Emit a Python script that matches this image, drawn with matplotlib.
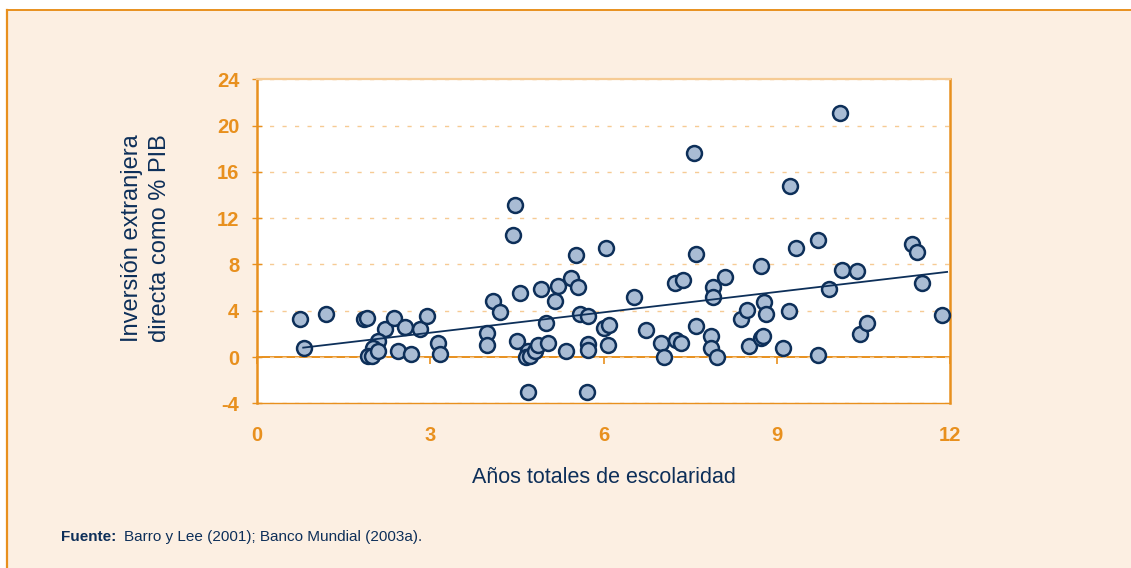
import numpy as np
import matplotlib
matplotlib.use("Agg")
import matplotlib.pyplot as plt
from matplotlib.patches import Rectangle
from matplotlib.lines import Line2D

plt.rcParams["axes.unicode_minus"] = False

# Years of schooling vs. FDI (% of GDP), one point per country
escolaridad = [
    0.745, 0.82, 1.195, 1.86, 1.91, 2.22, 2.09, 2.01, 1.93, 1.99,
    2.10, 2.38, 2.57, 2.82, 2.94, 2.45, 2.67, 3.13, 3.17, 3.99,
    3.98, 4.08, 4.20, 4.46, 4.43, 4.55, 4.50, 4.70, 4.66, 4.73,
    4.81, 4.87, 4.70, 4.91, 5.00, 5.04, 5.16, 5.22, 5.43, 5.52,
    5.55, 5.35, 5.59, 5.74, 5.73, 5.74, 5.72, 6.04, 6.01, 6.07,
    6.10, 6.52, 6.73, 7.00, 7.05, 7.25, 7.34, 7.24, 7.37, 7.57,
    7.61, 7.61, 7.89, 7.89, 7.87, 7.86, 7.96, 8.11, 8.38, 8.48,
    8.52, 8.72, 8.78, 8.81, 8.72, 8.77, 9.10, 9.22, 9.23, 9.34,
    9.72, 9.71, 9.90, 10.09, 10.13, 10.39, 10.45, 10.57, 11.34, 11.42,
    11.52, 11.86,
]
ied_pib = [
    3.31, 0.81, 3.69, 3.31, 3.37, 2.45, 1.38, 0.81, 0.09, 0.12,
    0.52, 3.40, 2.62, 2.45, 3.51, 0.52, 0.29, 1.21, 0.29, 2.10,
    1.07, 4.87, 3.89, 13.11, 10.55, 5.50, 1.38, 0.52, 0.00, 0.06,
    0.52, 1.04, -3.00, 5.91, 2.91, 1.21, 4.84, 6.14, 6.86, 8.81,
    6.05, 0.52, 3.69, 3.51, 1.10, 0.63, -3.00, 9.39, 2.54, 1.04,
    2.74, 5.19, 2.31, 1.21, 0.00, 1.50, 1.24, 6.43, 6.69, 17.67,
    8.88, 2.68, 6.08, 5.22, 1.82, 0.75, 0.00, 6.92, 3.31, 4.06,
    0.95, 7.87, 4.78, 3.69, 1.61, 1.79, 0.75, 3.98, 14.78, 9.45,
    10.09, 0.17, 5.91, 21.07, 7.49, 7.44, 2.02, 2.91, 9.74, 9.11,
    6.43, 3.63,
]
# linear trend: slope, intercept and the span it is drawn over
tendencia_pendiente = 0.587
tendencia_ordenada = 0.34
tendencia_rango = [0.80, 11.95]

x_ticks = [0, 3, 6, 9, 12]
y_ticks = [-4, 0, 4, 8, 12, 16, 20, 24]

ORANGE = "#E8901E"
ORANGE_LIGHT = "#F6CB94"
NAVY = "#0D2F59"
FILL = "#A9BCD4"
CREAM = "#FCEFE2"
SANS = ["Liberation Sans", "DejaVu Sans"]

W, H = 1131, 568
fig = plt.figure(figsize=(W / 100, H / 100), dpi=100)
fig.patch.set_facecolor("white")

# cream panel with orange top and left rules (behind the axes)
x0, ytop = 7 / W, 1 - 9.5 / H
fig.patches.append(Rectangle((x0, 0), 1 - x0, ytop, transform=fig.transFigure,
                             facecolor=CREAM, edgecolor="none", zorder=-3))
fig.lines.append(Line2D([x0, 1], [ytop, ytop], transform=fig.transFigure,
                        color=ORANGE, lw=1.4, zorder=-2))
fig.lines.append(Line2D([x0, x0], [0, ytop], transform=fig.transFigure,
                        color=ORANGE, lw=1.6, zorder=-2))

ax = fig.add_axes([257 / W, 1 - 403.3 / H, (950 - 257) / W, (403.3 - 79.3) / H])
ax.set_facecolor("white")
ax.set_xlim(0, 12)
ax.set_ylim(-4, 24)
ax.set_xticks(x_ticks)
ax.set_yticks(y_ticks)

for side, col, lw in [("left", ORANGE, 1.8), ("right", ORANGE, 1.8),
                      ("bottom", ORANGE, 1.0), ("top", ORANGE_LIGHT, 1.6)]:
    ax.spines[side].set_color(col)
    ax.spines[side].set_linewidth(lw)

ax.yaxis.grid(True, color=ORANGE_LIGHT, linestyle=(0, (3, 6)), linewidth=1.0)
ax.set_axisbelow(True)

ax.tick_params(axis="y", direction="inout", length=7.5, width=1, color=ORANGE,
               labelcolor=ORANGE, pad=9)
ax.tick_params(axis="x", length=0, labelcolor=ORANGE, pad=16)
for lab in ax.get_xticklabels() + ax.get_yticklabels():
    lab.set_fontfamily(SANS)
    lab.set_fontweight("bold")
    lab.set_fontsize(14.5)

# x axis line at zero with downward ticks
sec = ax.secondary_xaxis(0, transform=ax.transData)
sec.set_xticks(x_ticks)
sec.tick_params(axis="x", direction="out", length=5, width=1.2, color=ORANGE,
                labelbottom=False)
sec.spines["bottom"].set_color(ORANGE)
sec.spines["bottom"].set_linewidth(1.4)

ax.scatter(escolaridad, ied_pib, s=115, facecolor=FILL, edgecolor=NAVY,
           linewidth=1.8, zorder=3, clip_on=False)

xl = np.array(tendencia_rango)
ax.plot(xl, tendencia_pendiente * xl + tendencia_ordenada, color=NAVY, lw=1.3,
        zorder=4)

ax.set_xlabel("Años totales de escolaridad", fontsize=15.5, color=NAVY,
              fontfamily=SANS, labelpad=16)
fig.text(146 / W, 1 - 238 / H, "Inversión extranjera\ndirecta como % PIB",
         rotation=90, ha="center", va="center", ma="center", fontsize=17,
         color=NAVY, fontfamily=SANS, linespacing=1.3)

fig.text(61 / W, 1 - 537 / H, "Fuente:", fontsize=11, fontweight="bold",
         color=NAVY, fontfamily=SANS, va="center", ha="left")
fig.text(124 / W, 1 - 537 / H, "Barro y Lee (2001); Banco Mundial (2003a).",
         fontsize=11, color=NAVY, fontfamily=SANS, va="center", ha="left")

fig.savefig("out.png", dpi=100, facecolor=fig.get_facecolor())
